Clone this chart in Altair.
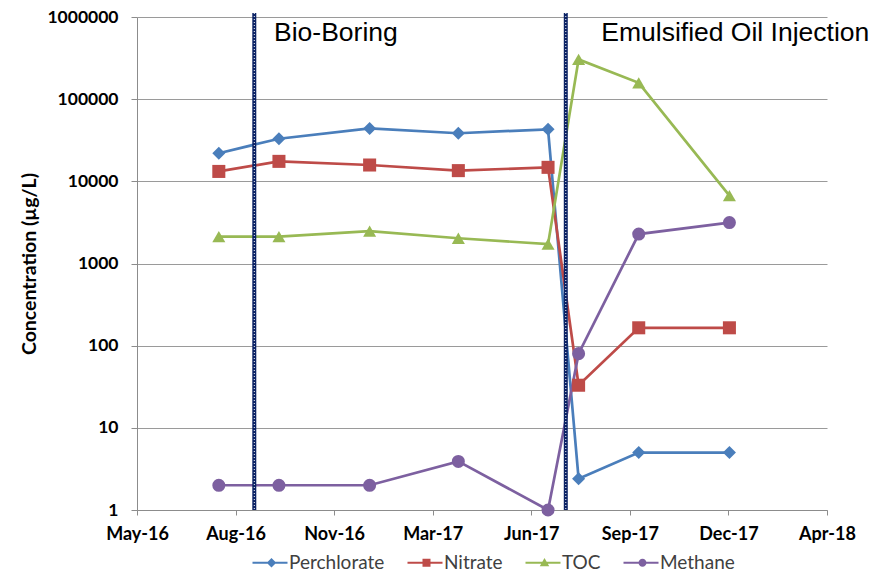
import altair as alt
import pandas as pd

# ---- data ----
dates = ["2016-08-01", "2016-10-01", "2017-01-01", "2017-04-01",
         "2017-07-01", "2017-08-01", "2017-10-01", "2018-01-01"]
series_names = ["Perchlorate", "Nitrate", "TOC", "Methane"]
perchlorate = [22000, 33000, 44000, 38500, 43000, 2.4, 5, 5]
nitrate = [13200, 17500, 15800, 13500, 14800, 33, 165, 165]
toc = [2120, 2120, 2480, 2030, 1720, 305000, 158000, 6700]
methane = [2, 2, 2, 3.9, 1, 80, 2280, 3150]

tick_dates = ["2016-05-10", "2016-08-18", "2016-11-26", "2017-03-06",
              "2017-06-14", "2017-09-22", "2017-12-31", "2018-04-10"]
y_ticks = [1, 10, 100, 1000, 10000, 100000, 1000000]

event_dates = ["2016-09-06", "2017-07-19"]
label_dates = ["2016-09-26", "2017-08-24"]
event_labels = ["Bio-Boring", "Emulsified Oil Injection"]
label_value = 508000
rule_top = 1118000

colors = ["#4A7EBB", "#BE4B48", "#98B954", "#7D60A0"]
shapes = ["diamond", "square", "triangle-up", "circle"]
# legend glyphs: short line with the marker on it (unit = half symbol size)
legend_glyphs = [
    "M-1,-0.22L6,-0.22L6,0.22L-1,0.22ZM2.8,-0.95L3.75,0L2.8,0.95L1.85,0Z",
    "M-1,-0.22L6,-0.22L6,0.22L-1,0.22ZM2.0,-0.8L3.6,-0.8L3.6,0.8L2.0,0.8Z",
    "M-1,-0.22L6,-0.22L6,0.22L-1,0.22ZM2.8,-0.95L3.75,0.7L1.85,0.7Z",
    "M-1,-0.22L6,-0.22L6,0.22L-1,0.22ZM2.0,0A0.8,0.8,0,0,1,3.6,0A0.8,0.8,0,0,1,2.0,0Z",
]


def serial(d):
    return (pd.Timestamp(d) - pd.Timestamp("1899-12-30")).days


rows = []
for name, vals in zip(series_names, [perchlorate, nitrate, toc, methane]):
    for d, v in zip(dates, vals):
        rows.append({"day": serial(d), "series": name, "value": v})
df = pd.DataFrame(rows)

ticks = [serial(d) for d in tick_dates]
ev = pd.DataFrame({"day": [serial(d) for d in event_dates],
                   "value": [rule_top] * len(event_dates),
                   "bottom": [1] * len(event_dates)})
lab = pd.DataFrame({"day": [serial(d) for d in label_dates],
                    "value": [label_value] * len(label_dates),
                    "text": event_labels})

x_scale = alt.Scale(domain=[ticks[0], ticks[-1]], nice=False, zero=False)
y_scale = alt.Scale(type="log", domain=[1, 1000000], nice=False)
color_scale = alt.Scale(domain=series_names, range=colors)

x_axis = alt.Axis(values=ticks, title=None, grid=False,
                  labelExpr="utcFormat((datum.value - 25569) * 86400000, '%b-%y')",
                  tickSize=5, labelPadding=10, labelFlush=False, labelFontSize=18)
y_axis = alt.Axis(values=y_ticks, format="d", grid=True,
                  title="Concentration (µg/L)", titleX=-108, titleY=246.5,
                  titleAngle=-90, titleBaseline="middle", titleAlign="center",
                  titleFont="Lato", titleFontWeight="bold", titleFontSize=19.5,
                  titleColor="#000000", tickSize=6, labelPadding=13)

X = alt.X("day:Q", scale=x_scale, axis=x_axis)
Y = alt.Y("value:Q", scale=y_scale, axis=y_axis)


def make_legend():
    return alt.Legend(
        orient="none", legendX=111, legendY=536, direction="horizontal",
        title=None, labelFont="Lato", labelFontSize=19, labelColor="#404040",
        symbolSize=100, symbolStrokeWidth=0, symbolOpacity=1,
        labelOffset=22, columnPadding=18, padding=0,
    )


lines = alt.Chart(df).mark_line(strokeWidth=2.7).encode(
    x=X, y=Y,
    color=alt.Color("series:N", scale=color_scale, legend=None),
)

points = alt.Chart(df).mark_point(filled=True, opacity=1, size=170).encode(
    x=X, y=Y,
    color=alt.Color("series:N", scale=color_scale, legend=None),
    shape=alt.Shape("series:N", scale=alt.Scale(domain=series_names, range=shapes), legend=None),
)

legend_layer = alt.Chart(df).mark_point(filled=True, opacity=0, size=10).encode(
    x=X, y=Y,
    color=alt.Color("series:N", scale=color_scale, legend=make_legend()),
    shape=alt.Shape("series:N", scale=alt.Scale(domain=series_names, range=legend_glyphs),
                    legend=make_legend()),
)

rule_dark = alt.Chart(ev).mark_rule(color="#0B2265", strokeWidth=4).encode(
    x=X, y=Y, y2="bottom:Q",
)
rule_dots = alt.Chart(ev).mark_rule(color="#ffffff", strokeWidth=1, strokeDash=[1, 2]).encode(
    x=X, y=Y, y2="bottom:Q",
)

labels = alt.Chart(lab).mark_text(
    align="left", baseline="alphabetic", font="Liberation Sans",
    fontSize=26.5, color="#000000",
).encode(
    x=X, y=Y,
    text="text:N",
)

chart = alt.layer(lines, rule_dark, rule_dots, points, labels, legend_layer).resolve_scale(
    color="independent", shape="independent"
).properties(
    width=690, height=493,
    autosize=alt.AutoSizeParams(type="none"),
    padding={"left": 129, "top": 9, "right": 46, "bottom": 59},
).configure_view(stroke=None).configure_axis(
    domainColor="#8c8c8c", gridColor="#9a9a9a", tickColor="#8c8c8c",
    labelFont="Lato", labelFontWeight="bold", labelFontSize=17.5,
    labelColor="#000000", domainWidth=1, gridWidth=1,
)

chart.save("out.html", embed_options={"renderer": "svg", "actions": False})
